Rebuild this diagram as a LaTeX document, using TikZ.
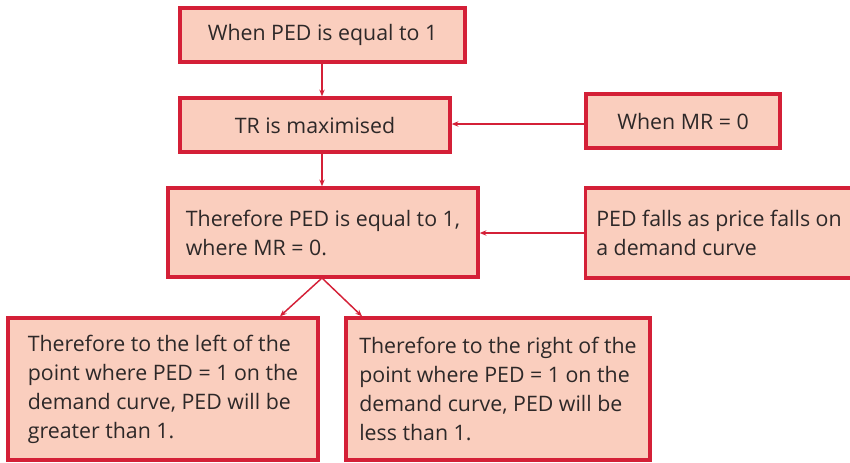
\documentclass[tikz,border=0pt]{standalone}
\usepackage{fontspec}
\setmainfont{Open Sans}
\usepackage{xcolor}
\usetikzlibrary{arrows.meta,positioning}
\definecolor{boxfill}{RGB}{250,206,190}
\definecolor{boxline}{RGB}{212,32,55}
\definecolor{boxtext}{RGB}{45,40,40}

\begin{document}
\begin{tikzpicture}[x=0.75pt,y=-0.75pt,>={Stealth[length=5pt,width=4pt]}]
  \tikzstyle{box}=[draw=boxline,fill=boxfill,line width=2.6pt,align=left,inner sep=0pt,text=boxtext,font=\fontsize{16}{21.75}\selectfont]
  \tikzstyle{link}=[->,draw=boxline,line width=1.1pt]
  \useasboundingbox (0,0) rectangle (850,462);
  \clip (0,0) rectangle (850,462);
  \node[box,minimum width=213.75pt,minimum height=40.5pt] (ped1) at (322.5,35) {When PED is equal to 1};
  \node[box,minimum width=202.5pt,minimum height=40.5pt] (trmax) at (315,125) {TR is maximised};
  \node[box,minimum width=145.5pt,minimum height=40.5pt] (mrzero) at (683,121) {When MR = 0};
  \node[box,minimum width=232.5pt,minimum height=66.75pt] (pedmr) at (323,232.5) {Therefore PED is equal to 1,\\where MR = 0.};
  \node[box,minimum width=200pt,minimum height=67.5pt] (pedfalls) at (719,233) {PED falls as price falls on\\a demand curve};
  \node[box,minimum width=232.5pt,minimum height=106.5pt] (leftside) at (163,389) {Therefore to the left of the\\point where PED = 1 on the\\demand curve, PED will be\\greater than 1.};
  \node[box,minimum width=228pt,minimum height=106.5pt] (rightside) at (498,389) {Therefore to the right of the\\point where PED = 1 on the\\demand curve, PED will be\\less than 1.};
  \coordinate (split) at (322,278);
  \draw[link] (ped1.south -| 322,0) -- (trmax.north -| 322,0);
  \draw[link] (trmax.south -| 322,0) -- (pedmr.north -| 322,0);
  \draw[link] (mrzero.west |- 0,124) -- (trmax.east |- 0,124);
  \draw[link] (pedfalls.west |- 0,233) -- (pedmr.east |- 0,233);
  \draw[link] (split) -- (leftside.north -| 280,0);
  \draw[link] (split) -- (rightside.north -| 362,0);
\end{tikzpicture}
\end{document}
